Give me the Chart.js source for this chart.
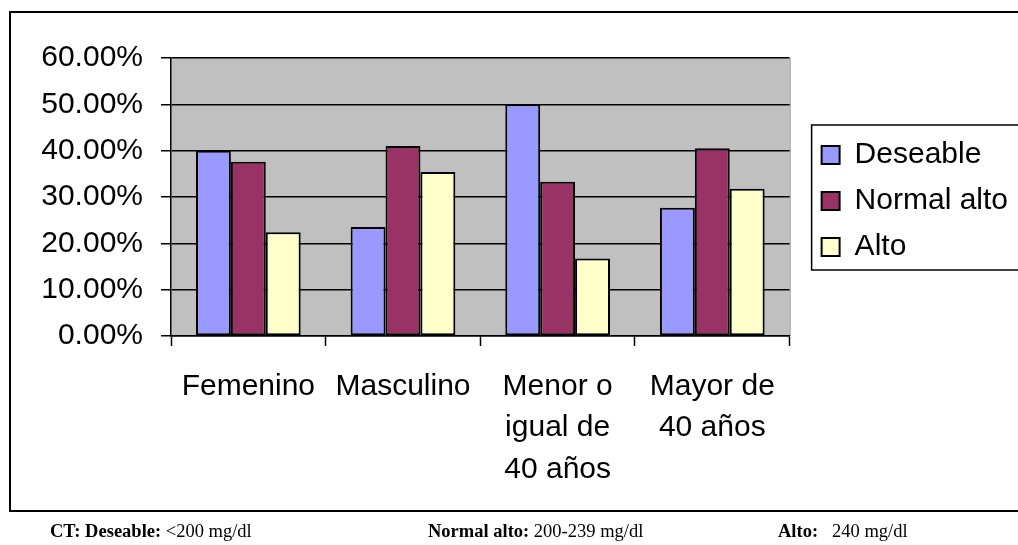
<!DOCTYPE html>
<html>
<head>
<meta charset="utf-8">
<script src="https://cdn.jsdelivr.net/npm/chart.js@4"></script>
<style>
  html, body { margin: 0; padding: 0; background: #fff; overflow: hidden; }
  #frame { position: absolute; left: 9px; top: 11px; width: 1020px; height: 497px; border: 2px solid #000; }
  #wrap { position: absolute; left: 0; top: 0; width: 1018px; height: 545px; }
  .note { position: absolute; top: 522px; font: 18.5px/19px 'Liberation Serif', 'Times New Roman', serif; color: #000; white-space: pre; }
  .note b { font-weight: bold; }
</style>
</head>
<body>
<div id="frame"></div>
<div id="wrap"><canvas id="chart"></canvas></div>
<div class="note" style="left:50px"><b>CT: Deseable:</b> &lt;200 mg/dl</div>
<div class="note" style="left:428px"><b>Normal alto:</b> 200-239 mg/dl</div>
<div class="note" style="left:778px"><b>Alto:</b></div>
<div class="note" style="left:832px">240 mg/dl</div>
<script>
// categories and values (percent)
const categories = [
    ['Femenino'],
    ['Masculino'],
    ['Menor o', 'igual de', '40 años'],
    ['Mayor de', '40 años']
];
const deseable = [40.0, 23.5, 50.0, 27.7];
const normalAlto = [37.6, 41.0, 33.3, 40.5];
const alto = [22.4, 35.4, 16.7, 31.8];
const yTicks = [0, 10, 20, 30, 40, 50, 60];

const FONT = "'Liberation Sans', Arial, sans-serif";
Chart.defaults.color = '#000';
Chart.defaults.font.family = FONT;

// grey plot background + light right edge
const plotBg = {
    id: 'plotBg',
    beforeDraw(chart) {
        const {ctx, chartArea: a} = chart;
        ctx.save();
        ctx.fillStyle = '#c0c0c0';
        ctx.fillRect(a.left, a.top, a.right - a.left, a.bottom - a.top);
        ctx.strokeStyle = '#8c8c8c';
        ctx.lineWidth = 1;
        ctx.beginPath();
        ctx.moveTo(a.right + 0.5, a.top);
        ctx.lineTo(a.right + 0.5, a.bottom);
        ctx.stroke();
        ctx.restore();
    }
};

// box round the legend (open on the right, like the original)
const legendBox = {
    id: 'legendBox',
    afterDraw(chart) {
        const boxes = chart.legend && chart.legend.legendHitBoxes;
        if (!boxes || !boxes.length) return;
        const first = boxes[0], last = boxes[boxes.length - 1];
        const left = first.left - 10;
        const top = first.top - 15;
        const right = chart.width + 5;
        const bottom = last.top + last.height + 8;
        const ctx = chart.ctx;
        ctx.save();
        ctx.strokeStyle = '#000';
        ctx.lineWidth = 1.5;
        ctx.strokeRect(left, top, right - left, bottom - top);
        ctx.restore();
    }
};

new Chart(document.getElementById('chart'), {
    type: 'bar',
    data: {
        labels: categories,
        datasets: [
            { label: 'Deseable', data: deseable, backgroundColor: '#9999ff' },
            { label: 'Normal alto', data: normalAlto, backgroundColor: '#993366' },
            { label: 'Alto', data: alto, backgroundColor: '#ffffcc' }
        ]
    },
    options: {
        responsive: true,
        maintainAspectRatio: false,
        animation: false,
        datasets: {
            bar: {
                yAxisID: 'y',
                borderColor: '#000',
                borderWidth: 2,
                borderSkipped: false,
                categoryPercentage: 0.677,
                barPercentage: 1
            }
        },
        layout: { padding: { left: 20, top: 58, right: 0, bottom: 59 } },
        plugins: {
            legend: {
                position: 'right',
                fullSize: false,
                maxWidth: 400,
                title: { display: true, text: '', padding: 0, font: { size: 8, lineHeight: 1 } },
                labels: {
                    boxWidth: 18,
                    boxHeight: 18,
                    padding: 16,
                    font: { size: 30, family: FONT },
                    color: '#000'
                }
            },
            tooltip: { enabled: false }
        },
        scales: {
            x: {
                afterFit(scale) { scale.height = 150; },
                grid: {
                    offset: true,
                    drawOnChartArea: false,
                    drawTicks: true,
                    tickLength: 10,
                    tickColor: '#000',
                    tickWidth: 1.5
                },
                border: { color: '#000', width: 1.5 },
                ticks: {
                    padding: 20,
                    maxRotation: 0,
                    autoSkip: false,
                    font: { size: 30, family: FONT, lineHeight: 1.38 }
                }
            },
            y: {
                min: 0,
                max: 60,
                afterBuildTicks(scale) {
                    scale.ticks = yTicks.map(v => ({ value: v }));
                },
                afterFit(scale) { scale.width = 151; },
                grid: {
                    color: '#000',
                    lineWidth: 1.5,
                    tickLength: 10,
                    tickColor: '#000'
                },
                border: { color: '#000', width: 1.5 },
                ticks: {
                    padding: 18,
                    font: { size: 30, family: FONT },
                    callback: v => v.toFixed(2) + '%'
                }
            },
            // empty spacer between plot and legend
            pad: {
                type: 'linear',
                position: 'right',
                grid: { display: false },
                border: { display: false },
                ticks: { display: false },
                afterFit(scale) { scale.width = 16; }
            }
        }
    },
    plugins: [plotBg, legendBox]
});
</script>
</body>
</html>
